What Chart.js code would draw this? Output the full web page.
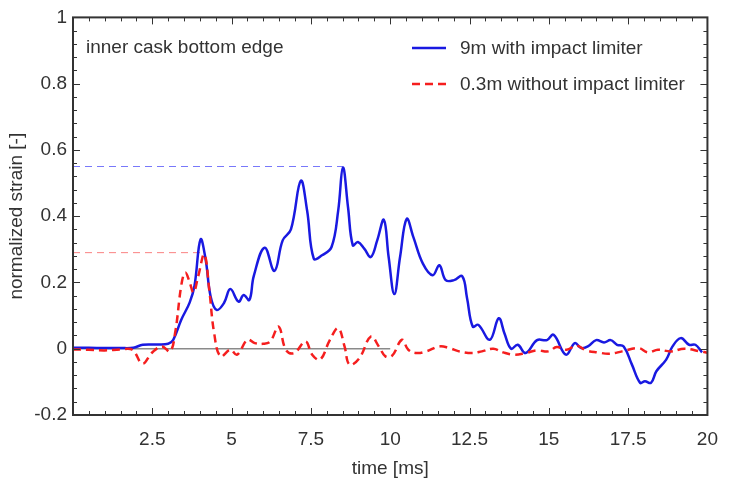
<!DOCTYPE html>
<html>
<head>
<meta charset="utf-8">
<script src="https://cdn.jsdelivr.net/npm/chart.js@4"></script>
<style>
  body { margin: 0; background: #fff; }
</style>
</head>
<body>
<canvas id="strainChart" width="731" height="480"></canvas>
<script>
// strain curves (time in ms, normalized strain)
const blueTime = [0, 0.5, 1.0, 1.5, 1.9, 2.2, 2.6, 3.0, 3.16, 3.41, 3.68, 3.83, 4.02, 4.18, 4.34, 4.53, 4.76, 4.96, 5.22, 5.38, 5.56, 5.7, 6.04, 6.35, 6.61, 6.87, 7.18, 7.38, 7.59, 7.85, 8.15, 8.36, 8.51, 8.67, 8.82, 8.98, 9.18, 9.39, 9.59, 9.80, 9.95, 10.13, 10.31, 10.52, 10.73, 11.03, 11.34, 11.55, 11.75, 12.01, 12.27, 12.42, 12.6, 12.78, 13.14, 13.42, 13.6, 13.81, 14.02, 14.27, 14.63, 14.94, 15.15, 15.54, 15.82, 16.02, 16.23, 16.49, 16.74, 16.95, 17.15, 17.36, 17.62, 17.88, 18.03, 18.22, 18.39, 18.7, 18.9, 19.16, 19.42, 19.62, 19.83];
const blueStrain = [0.003, 0.003, 0.002, 0.002, 0.003, 0.012, 0.013, 0.015, 0.027, 0.087, 0.14, 0.19, 0.33, 0.27, 0.157, 0.117, 0.138, 0.18, 0.142, 0.162, 0.147, 0.22, 0.305, 0.235, 0.327, 0.36, 0.507, 0.417, 0.272, 0.282, 0.307, 0.417, 0.547, 0.427, 0.312, 0.322, 0.302, 0.277, 0.327, 0.389, 0.277, 0.165, 0.277, 0.392, 0.337, 0.257, 0.222, 0.252, 0.207, 0.207, 0.219, 0.154, 0.067, 0.072, 0.027, 0.092, 0.047, 0.0, 0.012, -0.013, 0.026, 0.026, 0.042, -0.018, 0.017, 0.002, 0.007, 0.026, 0.019, 0.026, 0.012, 0.007, -0.048, -0.103, -0.098, -0.103, -0.068, -0.033, 0.007, 0.032, 0.012, 0.012, -0.011];

const redTime = [0, 0.5, 1.0, 1.5, 1.87, 2.19, 2.49, 2.8, 3.06, 3.22, 3.42, 3.54, 3.68, 3.8, 3.95, 4.14, 4.3, 4.45, 4.65, 4.96, 5.17, 5.5, 5.73, 5.99, 6.22, 6.48, 6.71, 6.97, 7.33, 7.54, 7.79, 8.1, 8.36, 8.56, 8.72, 9.03, 9.39, 9.64, 9.85, 10.06, 10.37, 10.57, 10.83, 11.14, 11.55, 11.86, 12.17, 12.58, 12.89, 13.25, 13.56, 13.91, 14.27, 14.63, 14.99, 15.25, 15.56, 15.87, 16.18, 16.54, 16.9, 17.31, 17.82, 18.13, 18.44, 18.85, 19.27, 19.78, 20];
const redStrain = [-0.002, -0.003, -0.005, -0.002, -0.003, -0.045, -0.012, 0.007, -0.008, 0.048, 0.195, 0.23, 0.2, 0.17, 0.22, 0.285, 0.174, 0.047, -0.023, -0.003, -0.018, 0.027, 0.017, 0.015, 0.022, 0.067, -0.003, -0.013, 0.022, -0.018, -0.033, 0.027, 0.062, 0.007, -0.048, -0.028, 0.037, 0.007, -0.023, -0.021, 0.027, -0.003, -0.013, -0.008, 0.007, 0.002, -0.008, -0.013, -0.008, 0.0, -0.011, -0.018, -0.013, -0.005, -0.008, 0.005, -0.003, 0.009, -0.005, -0.011, -0.015, -0.008, 0.002, -0.011, -0.003, -0.008, 0.0, -0.008, -0.012];

// peak marker lines: [blue, red]
const peakEndTime = [8.5, 4.14];
const peakValue = [0.55, 0.29];
const zeroLineEnd = 10;

const seriesLabels = ['9m with impact limiter', '0.3m without impact limiter'];
const noteText = 'inner cask bottom edge';

const FONT = '"Liberation Sans", Arial, sans-serif';
const BLUE = 'rgb(25, 25, 225)';
const RED = 'rgb(245, 30, 30)';

function toPoints(xs, ys) {
    return xs.map((x, i) => ({ x: x, y: ys[i] }));
}

// frame with inward ticks on all four sides
const frameTicks = {
    id: 'frameTicks',
    afterDatasetsDraw(chart) {
        const { ctx, chartArea: a, scales: { x, y } } = chart;
        ctx.save();
        ctx.strokeStyle = '#333';
        ctx.lineWidth = 1;
        ctx.beginPath();
        for (let i = 0; i <= 40; i++) {
            const px = Math.round(x.getPixelForValue(i * 0.5)) + 0.5;
            const len = i % 5 === 0 ? 7 : 4;
            ctx.moveTo(px, a.bottom); ctx.lineTo(px, a.bottom - len);
            ctx.moveTo(px, a.top); ctx.lineTo(px, a.top + len);
        }
        for (let i = 0; i <= 30; i++) {
            const py = Math.round(y.getPixelForValue(-0.2 + i * 0.04)) + 0.5;
            const len = i % 5 === 0 ? 7 : 4;
            ctx.moveTo(a.left, py); ctx.lineTo(a.left + len, py);
            ctx.moveTo(a.right, py); ctx.lineTo(a.right - len, py);
        }
        ctx.stroke();
        ctx.lineWidth = 2;
        ctx.strokeRect(a.left, a.top, a.right - a.left, a.bottom - a.top);
        ctx.restore();
    },
    afterDraw(chart) {
        const ctx = chart.ctx;
        ctx.save();
        ctx.fillStyle = '#333';
        ctx.font = '19px ' + FONT;
        ctx.textBaseline = 'alphabetic';
        ctx.fillText(noteText, 86, 53);

        // legend for the two measured curves
        const rows = [48, 84];
        for (let i = 0; i < 2; i++) {
            const ds = chart.data.datasets[i];
            ctx.strokeStyle = ds.borderColor;
            ctx.lineWidth = ds.borderWidth;
            ctx.setLineDash(ds.borderDash || []);
            ctx.beginPath();
            ctx.moveTo(412, rows[i]);
            ctx.lineTo(446, rows[i]);
            ctx.stroke();
            ctx.setLineDash([]);
            ctx.fillStyle = '#333';
            ctx.textBaseline = 'middle';
            ctx.fillText(seriesLabels[i], 460, rows[i] + 1);
        }
        ctx.restore();
    }
};

const ctx = document.getElementById('strainChart').getContext('2d');
new Chart(ctx, {
    type: 'line',
    data: {
        datasets: [
            {
                label: seriesLabels[0],
                data: toPoints(blueTime, blueStrain),
                borderColor: BLUE,
                borderWidth: 2.5,
                tension: 0.4,
                pointRadius: 0,
                order: 2
            },
            {
                label: seriesLabels[1],
                data: toPoints(redTime, redStrain),
                borderColor: RED,
                borderWidth: 2.5,
                borderDash: [8, 5],
                tension: 0.4,
                pointRadius: 0,
                order: 1
            },
            {
                label: 'blue peak',
                data: [{ x: 0, y: peakValue[0] }, { x: peakEndTime[0], y: peakValue[0] }],
                borderColor: 'rgb(120, 120, 250)',
                borderWidth: 1,
                borderDash: [7, 5],
                pointRadius: 0,
                order: 3
            },
            {
                label: 'red peak',
                data: [{ x: 0, y: peakValue[1] }, { x: peakEndTime[1], y: peakValue[1] }],
                borderColor: 'rgb(250, 130, 130)',
                borderWidth: 1,
                borderDash: [7, 5],
                pointRadius: 0,
                order: 3
            },
            {
                label: 'zero',
                data: [{ x: 0, y: 0 }, { x: zeroLineEnd, y: 0 }],
                borderColor: '#8a8a8a',
                borderWidth: 1.5,
                pointRadius: 0,
                order: 4
            }
        ]
    },
    options: {
        responsive: false,
        animation: false,
        layout: { padding: { top: 16, right: 11, left: 0, bottom: 0 } },
        plugins: {
            legend: { display: false },
            tooltip: { enabled: false }
        },
        scales: {
            x: {
                type: 'linear',
                min: 0,
                max: 20,
                grid: { display: false, drawTicks: false },
                border: { display: false },
                ticks: {
                    stepSize: 2.5,
                    padding: 13,
                    color: '#333',
                    font: { family: FONT, size: 19 },
                    maxRotation: 0,
                    callback: v => v === 0 ? '' : String(v)
                },
                title: {
                    display: true,
                    text: 'time [ms]',
                    color: '#333',
                    font: { family: FONT, size: 19 },
                    padding: { top: 0, bottom: 0 }
                },
                afterFit: s => { s.height = 65; }
            },
            y: {
                min: -0.2,
                max: 1,
                grid: { display: false, drawTicks: false },
                border: { display: false },
                ticks: {
                    stepSize: 0.2,
                    padding: 6,
                    color: '#333',
                    font: { family: FONT, size: 19 },
                    callback: v => Math.abs(v) < 1e-9 ? '0' : String(+v.toFixed(1))
                },
                title: {
                    display: true,
                    text: 'normalized strain [-]',
                    color: '#333',
                    font: { family: FONT, size: 19 },
                    padding: { top: 5, bottom: 0 }
                },
                afterFit: s => { s.width = 73; }
            }
        }
    },
    plugins: [frameTicks]
});
</script>
</body>
</html>
